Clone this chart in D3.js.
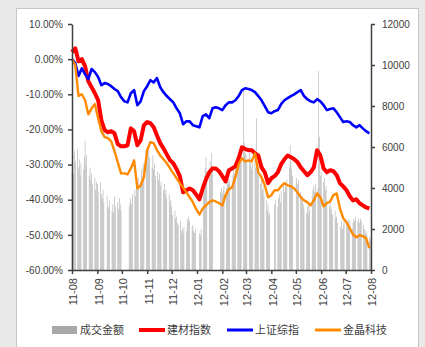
<!DOCTYPE html>
<html><head><meta charset="utf-8">
<script src="https://cdn.jsdelivr.net/npm/d3@7"></script>
<style>
html,body{margin:0;padding:0;background:#e9e9e9;}
svg{display:block;}
</style></head>
<body>
<svg id="c" width="425" height="347"></svg>
<script>
// ---- data ----
const seriesNames = ["成交金额", "建材指数", "上证综指", "金晶科技"];
const yLeftTicks = [10, 0, -10, -20, -30, -40, -50, -60];
const yRightTicks = [0, 2000, 4000, 6000, 8000, 10000, 12000];
const holidays = ["2011-09-12","2011-10-03","2011-10-04","2011-10-05","2011-10-06","2011-10-07",
  "2012-01-02","2012-01-03","2012-01-23","2012-01-24","2012-01-25","2012-01-26","2012-01-27",
  "2012-04-02","2012-04-03","2012-04-04","2012-04-30","2012-05-01","2012-06-22"];

// daily turnover (right axis), by month
const amtAug11 = [4800,5600,4700,5800,5300,5900,5000,5400,4600,5200,4900,5500,6300,5100,5600,4600,5000,4400,4700,4200,4500,3900,4300];
const amtSep11 = [4200,3800,4300,3700,3500,3900,3300,3600,3100,3000,3400,2900,3200,2800,3600,3100,3300,3000,3500,3200,2900];
const amtOct11 = [3100,3300,3500,3200,3700,3900,3600,4200,4000,4500,4300,4900,4600,5200,5000,5600];
const amtNov11 = [5800,5300,6100,5500,5000,5600,4900,5200,4600,4800,4400,4700,4100,4300,3900,4200,3700,3900,3500,3700,3300,3400];
const amtDec11 = [3100,2700,2900,2500,2600,2300,2200,2400,1900,2000,1800,2100,1900,2500,2300,2600,2400,2100,2200,1900,1800,2000];
const amtJan12 = [1800,1700,2000,3900,4600,5000,5500,4800,4500,5300,4900,5700,5100,3800,4000];
const amtFeb12 = [3700,3900,4100,4000,4300,4500,4200,4400,4100,4600,4900,4700,5100,5300,5000,5500,5200,5800,8800,6200,5700];
const amtMar12 = [5600,5300,5700,5100,5500,4900,5200,5400,5000,7400,4800,4600,4200,4500,3900,4100,3600,3400,2900,3200,2600,2800];
const amtApr12 = [3200,3400,3100,3500,3700,3300,3900,4100,3800,4200,4000,4400,5000,6100,5300,4900,4600];
const amtMay12 = [4500,4200,4400,3800,3500,3600,3200,3000,2800,3100,2700,3300,2900,3600,3900,4100,3800,4200,4000,9700,6500,4600];
const amtJun12 = [4800,4300,4500,3900,4100,3400,3100,3300,2800,3000,2700,2900,2500,2600,2300,2100,2400,2000,2200,2500];
const amtJul12 = [2300,2100,2500,2200,2400,2000,2300,2500,2400,2600,2400,2500,2300,2500,2400,2200,2000,1800,1900,1700,1600,1500];
const amtAug12 = [1500];

// index lines (% change, left axis), one value every 4 calendar days from 2011-08-01
const jiancai = [2.0,3.1,-0.6,0,-2.0,-6.3,-8.0,-9.7,-11.7,-17.4,
 -20.2,-20.8,-20.5,-21.1,-24.2,-24.8,-24.8,-24.5,-19.7,-20.5,
 -24.5,-23.1,-18.8,-17.9,-18.2,-19.4,-21.7,-23.9,-25.4,-27.1,
 -28.8,-29.6,-31.3,-33.3,-37.9,-37.3,-36.8,-37.3,-38.5,-39.9,
 -36.8,-34.2,-32.2,-31.1,-31.1,-31.9,-33.3,-34.8,-31.6,-31.1,
 -30.5,-28.2,-25.1,-25.6,-25.9,-25.9,-26.8,-27.4,-30.8,-32.2,
 -35.3,-33.9,-33.3,-32.2,-29.9,-28.5,-27.4,-27.9,-28.5,-29.3,
 -30.8,-31.9,-33.0,-32.2,-30.8,-25.9,-27.4,-31.1,-32.2,-31.6,
 -31.9,-33.0,-35.3,-36.2,-37.3,-39.0,-40.2,-39.9,-41.0,-41.6,
 -42.2,-42.5];
const shangzheng = [0,-1.1,-4.8,-2.6,-4.3,-5.7,-2.8,-3.7,-5.1,-7.4,
 -6.8,-7.1,-7.7,-8.5,-9.1,-10.8,-12.0,-12.3,-9.7,-8.8,
 -13.1,-12.0,-9.1,-7.7,-6.0,-6.6,-5.4,-8.0,-9.4,-10.5,
 -11.4,-12.3,-14.0,-15.4,-18.5,-17.7,-17.7,-18.8,-19.1,-19.4,
 -16.2,-15.7,-16.8,-14.0,-13.7,-14.0,-14.5,-13.1,-12.3,-12.3,
 -11.7,-10.5,-8.8,-8.3,-8.5,-8.8,-9.4,-10.5,-11.7,-13.4,
 -15.1,-15.4,-14.8,-14.5,-12.8,-11.7,-11.1,-10.5,-10.0,-9.4,
 -8.8,-10.5,-11.4,-12.0,-12.3,-11.4,-12.0,-13.1,-14.5,-14.2,
 -14.0,-15.1,-16.5,-17.9,-17.7,-17.9,-18.8,-19.4,-18.8,-19.7,
 -20.5,-21.1];
const jinjing = [0,-1.7,-10.5,-10.0,-11.7,-15.7,-14.0,-12.8,-16.8,-20.5,
 -22.2,-22.5,-23.4,-26.2,-29.3,-32.5,-32.5,-32.8,-31.1,-28.8,
 -36.8,-35.9,-33.6,-25.9,-23.6,-23.9,-25.9,-27.4,-28.5,-29.6,
 -31.1,-32.5,-33.9,-35.3,-36.5,-37.9,-39.3,-40.7,-42.7,-44.2,
 -42.5,-41.6,-40.7,-40.2,-40.5,-41.0,-41.6,-38.7,-37.0,-36.5,
 -33.6,-29.9,-28.2,-29.1,-28.8,-29.1,-26.8,-32.2,-33.6,-35.9,
 -39.3,-38.7,-37.3,-37.3,-36.2,-35.3,-35.9,-36.2,-36.8,-37.9,
 -39.3,-40.2,-40.7,-41.6,-40.2,-38.2,-39.3,-41.9,-41.0,-40.5,
 -38.7,-38.2,-42.5,-45.3,-46.4,-48.1,-49.9,-50.7,-50.1,-50.4,
 -51.0,-53.8];

// ---- build ----
const start = new Date(2011, 7, 1), end = new Date(2012, 7, 1);
const fmtDay = d3.timeFormat("%Y-%m-%d");
const tradingDays = d3.timeDay.range(start, new Date(2012, 7, 2))
  .filter(d => d.getDay() % 6 !== 0 && !holidays.includes(fmtDay(d)));
const amounts = [].concat(amtAug11, amtSep11, amtOct11, amtNov11, amtDec11, amtJan12,
  amtFeb12, amtMar12, amtApr12, amtMay12, amtJun12, amtJul12, amtAug12);
const bars = d3.range(Math.min(tradingDays.length, amounts.length)).map(i => ({d: tradingDays[i], v: amounts[i]}));
const lineDate = i => d3.timeDay.offset(start, i * 4);

const svg = d3.select("#c");
svg.append("rect").attr("x", 16.5).attr("y", 8.5).attr("width", 402).attr("height", 345)
  .attr("fill", "#fff").attr("stroke", "#c6c6c6");

const x = d3.scaleTime().domain([start, end]).range([72, 371]);
const yL = d3.scaleLinear().domain([-60, 10]).range([270, 24]);
const yR = d3.scaleLinear().domain([0, 12000]).range([270, 24]);

// bars
const dayW = x(d3.timeDay.offset(start, 1)) - x(start);
svg.append("g").selectAll("rect").data(bars).join("rect")
  .attr("x", d => x(d.d) - dayW * 0.35).attr("width", dayW * 0.7)
  .attr("y", d => yR(d.v)).attr("height", d => yR(0) - yR(d.v))
  .attr("fill", "#aaaaaa");

// lines
const lines = [
  {vals: jiancai, color: "#ff0000", w: 4},
  {vals: shangzheng, color: "#0000ff", w: 2.6},
  {vals: jinjing, color: "#ff8a00", w: 2.4}
];
const lineGen = d3.line().x((v, i) => x(lineDate(i))).y(v => yL(v)).curve(d3.curveLinear);
lines.forEach(l => {
  svg.append("path").attr("d", lineGen(l.vals)).attr("fill", "none")
    .attr("stroke", l.color).attr("stroke-width", l.w).attr("stroke-linejoin", "round");
});

// axes
const axisColor = "#404040";
const font = "'Liberation Sans', Arial, sans-serif";
const gL = svg.append("g").attr("transform", "translate(72,0)")
  .call(d3.axisLeft(yL).tickValues(yLeftTicks).tickFormat(v => v.toFixed(2) + "%").tickSize(4).tickSizeOuter(0));
const gR = svg.append("g").attr("transform", "translate(371,0)")
  .call(d3.axisRight(yR).tickValues(yRightTicks).tickFormat(d3.format("d")).tickSize(4).tickSizeOuter(0));
const gB = svg.append("g").attr("transform", "translate(0,270)")
  .call(d3.axisBottom(x).tickValues(d3.timeMonth.range(start, new Date(2012, 7, 2))).tickFormat(d3.timeFormat("%y-%m")).tickSize(4).tickSizeOuter(0));

[gL, gR, gB].forEach(g => {
  g.select(".domain").attr("stroke", axisColor).attr("stroke-width", 1.5);
  g.selectAll(".tick line").attr("stroke", axisColor).attr("stroke-width", 1.5);
  g.selectAll("text").attr("fill", "#404040").attr("font-family", font).attr("font-size", 10);
});
gL.selectAll("text").attr("x", -9);
gR.selectAll("text").attr("x", 11);
gB.selectAll("text").attr("font-size", 11)
  .attr("transform", "rotate(-90)").attr("text-anchor", "end")
  .attr("x", -8).attr("y", 1).attr("dy", "0.35em");

// legend
const cjk = "'Noto Sans CJK SC', sans-serif";
const leg = svg.append("g").attr("font-family", cjk).attr("font-size", 11).attr("fill", "#404040");
const legY = 330;
const legItems = [
  {name: seriesNames[0], type: "rect", color: "#a8a8a8", x0: 52},
  {name: seriesNames[1], type: "line", color: "#ff0000", w: 4, x0: 139},
  {name: seriesNames[2], type: "line", color: "#0000ff", w: 3, x0: 227},
  {name: seriesNames[3], type: "line", color: "#ff8a00", w: 3, x0: 315}
];
legItems.forEach(it => {
  if (it.type === "rect") {
    leg.append("rect").attr("x", it.x0).attr("y", legY - 4).attr("width", 25).attr("height", 8).attr("fill", it.color);
  } else {
    leg.append("line").attr("x1", it.x0).attr("x2", it.x0 + 26).attr("y1", legY).attr("y2", legY)
      .attr("stroke", it.color).attr("stroke-width", it.w);
  }
  leg.append("text").attr("x", it.x0 + 28).attr("y", legY).attr("dy", "0.36em").text(it.name);
});
</script>
</body></html>
